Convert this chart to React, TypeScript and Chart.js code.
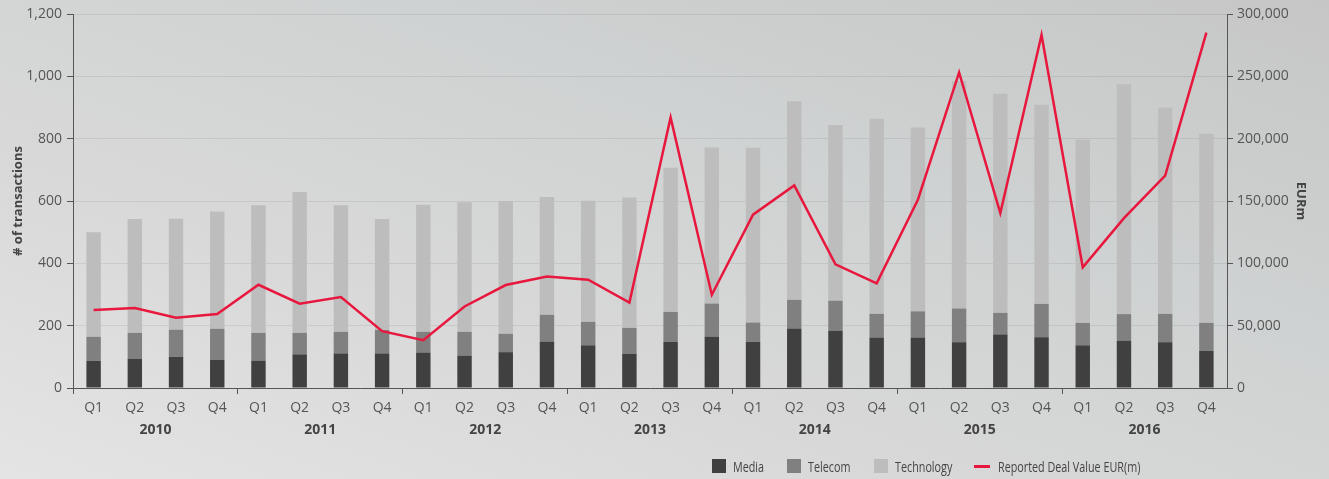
import React, { useEffect, useRef } from "react";
import { Chart, registerables } from "chart.js";

Chart.register(...registerables);

const quarters = ["Q1","Q2","Q3","Q4","Q1","Q2","Q3","Q4","Q1","Q2","Q3","Q4","Q1","Q2","Q3","Q4","Q1","Q2","Q3","Q4","Q1","Q2","Q3","Q4","Q1","Q2","Q3","Q4"];
const years = ["2010","2011","2012","2013","2014","2015","2016"];

const media = [87,93,100,90,88,108,111,111,114,104,115,149,137,110,148,165,148,191,184,162,162,147,172,163,137,152,147,119];
const telecom = [77,84,87,100,89,69,69,75,66,76,59,86,75,83,96,106,62,92,96,76,84,108,69,107,72,85,91,90];
const technology = [336,365,356,376,409,452,406,356,408,416,426,378,389,418,463,501,561,637,564,626,590,730,703,639,588,738,662,607];
const dealValue = [62500,64100,56300,59300,82800,67600,72900,45600,38400,65400,82600,89500,86900,68600,217000,74800,139000,162500,99200,83900,151000,253100,140300,283100,96800,136300,170300,285000];

const seriesNames = ["Media","Telecom","Technology","Reported Deal Value EUR(m)"];
const leftTicks = { min: 0, max: 1200, step: 200 };
const rightTicks = { min: 0, max: 300000, step: 50000 };

const COLORS = ["#404040", "#808080", "#bdbdbd", "#e8173d"];
const FONT = "'Open Sans', 'Noto Sans', sans-serif";

export default function App() {
  const ref = useRef<HTMLCanvasElement | null>(null);

  useEffect(() => {
    document.body.style.margin = "0";
    const canvas = ref.current!;
    const tickColor = "#555";
    const chart = new Chart(canvas, {
      type: "bar",
      data: {
        labels: quarters,
        datasets: [
          { type: "bar", label: seriesNames[0], data: media, backgroundColor: COLORS[0], yAxisID: "y", order: 1, barPercentage: 0.35, categoryPercentage: 1 },
          { type: "bar", label: seriesNames[1], data: telecom, backgroundColor: COLORS[1], yAxisID: "y", order: 1, barPercentage: 0.35, categoryPercentage: 1 },
          { type: "bar", label: seriesNames[2], data: technology, backgroundColor: COLORS[2], yAxisID: "y", order: 1, barPercentage: 0.35, categoryPercentage: 1 },
          { type: "line", label: seriesNames[3], data: dealValue, borderColor: COLORS[3], backgroundColor: COLORS[3], borderWidth: 2.5, pointRadius: 0, tension: 0, yAxisID: "y1", order: 0 } as any,
        ],
      },
      options: {
        responsive: false,
        animation: false,
        layout: { padding: { top: 14, bottom: 45, left: 0, right: 0 } },
        plugins: { legend: { display: false }, tooltip: { enabled: false } },
        scales: {
          x: {
            type: "category",
            stacked: true,
            offset: true,
            position: "bottom",
            grid: {
              display: true,
              drawOnChartArea: false,
              offset: true,
              tickLength: 6,
              tickColor: (ctx: any) => (ctx.index % 4 === 0 ? tickColor : "rgba(0,0,0,0)"),
            },
            border: { display: true, color: tickColor, width: 1 },
            ticks: { color: tickColor, font: { family: FONT, size: 14 }, padding: 6, maxRotation: 0, autoSkip: false },
            afterFit: (s: any) => { s.height = 26; },
          },
          x2: {
            type: "category",
            labels: years,
            offset: true,
            position: "bottom",
            grid: { display: false },
            border: { display: false },
            ticks: { color: "#444", font: { family: FONT, size: 14, weight: "bold" }, padding: 0, maxRotation: 0, autoSkip: false },
            afterFit: (s: any) => { s.height = 20; },
          } as any,
          y: {
            type: "linear",
            stacked: true,
            position: "left",
            min: leftTicks.min,
            max: leftTicks.max,
            ticks: { stepSize: leftTicks.step, color: tickColor, font: { family: FONT, size: 14 }, padding: 5 },
            grid: { color: "rgba(0,0,0,0.07)", tickColor: tickColor, tickLength: 6, lineWidth: 1 },
            border: { display: true, color: tickColor, width: 1 },
            title: { display: true, text: "# of transactions", color: "#444", font: { family: FONT, size: 13, weight: "bold" }, padding: { top: 10, bottom: 0 } },
            afterFit: (s: any) => { s.width = 73; },
          },
          y1: {
            type: "linear",
            position: "right",
            min: rightTicks.min,
            max: rightTicks.max,
            ticks: { stepSize: rightTicks.step, color: tickColor, font: { family: FONT, size: 14 }, padding: 4 },
            grid: { drawOnChartArea: false, tickColor: tickColor, tickLength: 6 },
            border: { display: true, color: tickColor, width: 1 },
            title: { display: true, text: "EURm", color: "#444", font: { family: FONT, size: 13, weight: "bold" }, padding: { top: 20, bottom: 0 } },
            afterFit: (s: any) => { s.width = 102; },
          },
        },
      } as any,
    });
    return () => chart.destroy();
  }, []);

  const legendItems = [
    { left: 712, kind: "box" },
    { left: 787, kind: "box" },
    { left: 874, kind: "box" },
    { left: 974, kind: "line" },
  ];

  return (
    <div
      style={{
        position: "fixed",
        left: 0,
        top: 0,
        width: 1329,
        height: 479,
        background: "linear-gradient(20deg, #e4e4e4 0%, #d8d8d8 35%, #cfd2d2 65%, #c6c6c6 100%)",
        overflow: "hidden",
      }}
    >
      <canvas ref={ref} width={1329} height={479} style={{ display: "block", width: 1329, height: 479 }} />
      {legendItems.map((it, i) => (
        <div
          key={i}
          style={{
            position: "absolute",
            left: it.left,
            top: 457,
            height: 18,
            display: "flex",
            alignItems: "center",
            fontFamily: FONT,
            fontSize: 14,
            color: "#444",
            whiteSpace: "nowrap",
          }}
        >
          {it.kind === "box" ? (
            <span style={{ display: "inline-block", width: 14, height: 14, background: COLORS[i], marginRight: 7 }} />
          ) : (
            <span style={{ display: "inline-block", width: 16, height: 3, background: COLORS[i], marginRight: 8 }} />
          )}
          <span style={{ display: "inline-block", transform: "scaleX(0.77)", transformOrigin: "left center" }}>{seriesNames[i]}</span>
        </div>
      ))}
    </div>
  );
}
